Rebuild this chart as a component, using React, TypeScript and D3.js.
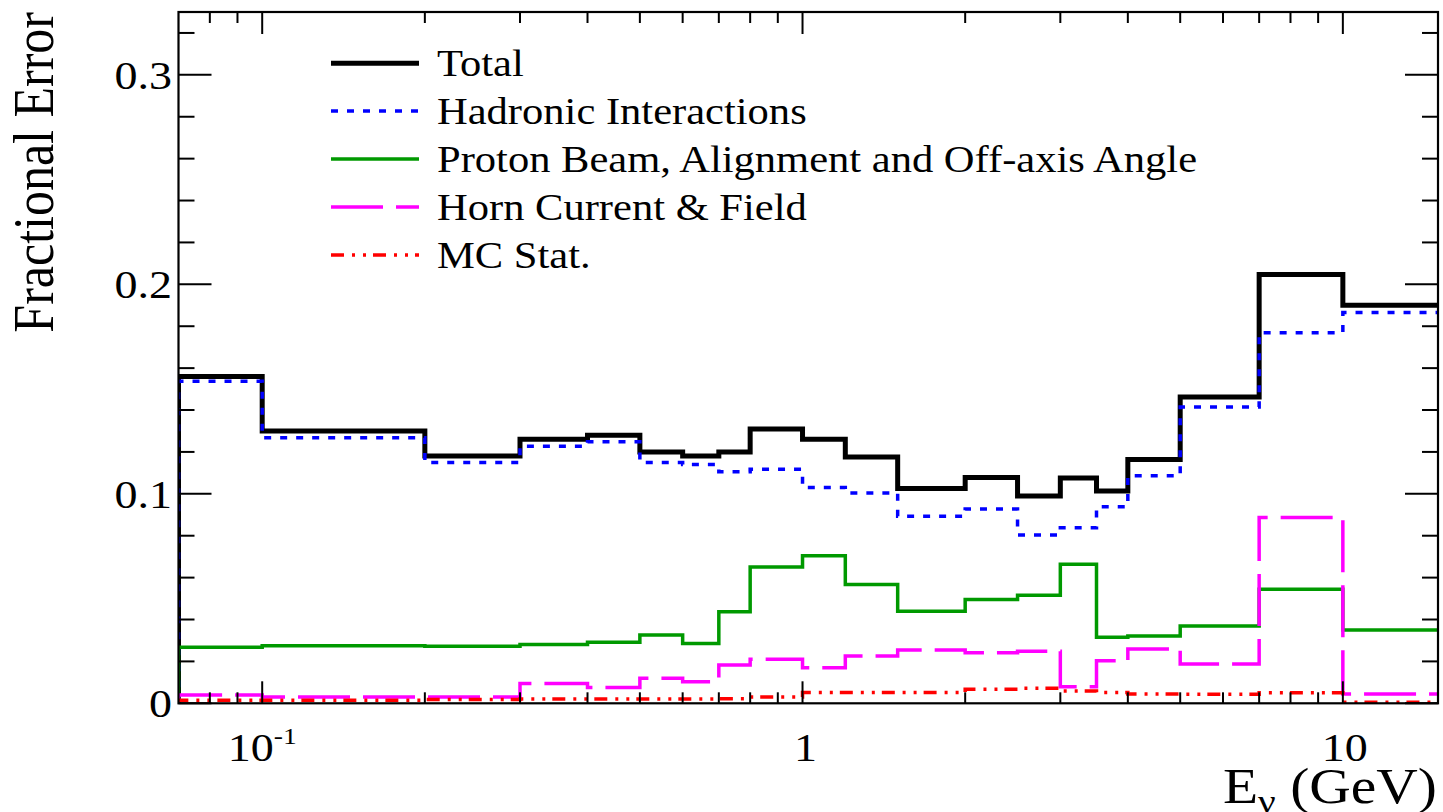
import React from "react";
import * as d3 from "d3";

// ---- data ----
const binEdges = [0.07, 0.1, 0.2, 0.3, 0.4, 0.5, 0.6, 0.7, 0.8, 1.0, 1.2, 1.5, 2.0, 2.5, 3.0, 3.5, 4.0, 5.0, 7.0, 10.0, 15.0];
const totalErr = [0.156, 0.13, 0.118, 0.126, 0.128, 0.12, 0.118, 0.12, 0.131, 0.126, 0.1176, 0.1025, 0.1078, 0.0989, 0.1076, 0.1014, 0.1164, 0.1462, 0.2047, 0.19];
const hadronicErr = [0.1537, 0.1268, 0.1149, 0.1227, 0.1248, 0.1149, 0.114, 0.1105, 0.1117, 0.103, 0.1004, 0.0893, 0.0927, 0.0803, 0.0838, 0.0938, 0.1086, 0.1414, 0.1769, 0.1865];
const protonBeamErr = [0.0267, 0.0275, 0.0272, 0.0281, 0.0291, 0.0326, 0.0286, 0.0437, 0.0651, 0.0704, 0.0567, 0.044, 0.0496, 0.0516, 0.0664, 0.0315, 0.0321, 0.0369, 0.0545, 0.035];
const hornErr = [0.004, 0.003, 0.003, 0.0095, 0.0076, 0.0119, 0.0103, 0.0183, 0.021, 0.017, 0.0226, 0.0254, 0.0241, 0.0249, 0.0079, 0.0203, 0.0259, 0.0188, 0.0887, 0.0044];
const mcStatErr = [0.0015, 0.0015, 0.0018, 0.002, 0.002, 0.002, 0.002, 0.0022, 0.003, 0.0051, 0.0051, 0.0052, 0.0067, 0.0072, 0.0059, 0.0052, 0.0044, 0.0043, 0.005, 0.0005];

const legendLabels = [
  "Total",
  "Hadronic Interactions",
  "Proton Beam, Alignment and Off-axis Angle",
  "Horn Current & Field",
  "MC Stat.",
];
const yTickValues = [0, 0.1, 0.2, 0.3];
const yTickLabels = ["0", "0.1", "0.2", "0.3"];
const xMajorTicks = [0.1, 1, 10];

// ---- layout / style ----
const W = 1443;
const H = 812;
const L = 178.5, R = 1438, T = 12, B = 703.3;
const SX = 1.15;
const FONT = "'Liberation Serif', 'Times New Roman', serif";

const series = [
  { values: totalErr, color: "#000000", width: 5, dash: "" },
  { values: hadronicErr, color: "#0000ff", width: 3.5, dash: "7 9" },
  { values: protonBeamErr, color: "#009900", width: 3.5, dash: "" },
  { values: hornErr, color: "#ff00ff", width: 3.5, dash: "52 13" },
  { values: mcStatErr, color: "#ff0000", width: 3.5, dash: "13 8 3 8 3 7" },
];

export default function App() {
  const x = d3.scaleLog().domain([0.07, 15]).range([L, R]);
  const y = d3.scaleLinear().domain([0, 0.33]).range([B, T]);

  const line = d3
    .line<[number, number]>()
    .x((d) => x(d[0]))
    .y((d) => y(d[1]))
    .curve(d3.curveStepAfter);

  const histPath = (vals: number[]) => {
    const pts: [number, number][] = [[binEdges[0], 0]];
    vals.forEach((v, i) => pts.push([binEdges[i], v]));
    pts.push([binEdges[binEdges.length - 1], vals[vals.length - 1]]);
    return line(pts) || "";
  };

  // minor ticks
  const xMinor: number[] = [];
  [0.01, 0.1, 1, 10].forEach((dec) => {
    for (let k = 2; k <= 9; k++) {
      const v = dec * k;
      if (v > 0.07 && v < 15) xMinor.push(v);
    }
  });
  const yMinor: number[] = d3.range(0, 0.33, 0.02).filter((v) => Math.abs((v * 10) % 1) > 1e-6 && Math.abs((v * 10) % 1 - 1) > 1e-6);

  const legendRows = [63.3, 111, 159, 207, 255];

  return (
    <svg
      width={W}
      height={H}
      style={{ position: "absolute", left: 0, top: 0, background: "#fff" }}
    >
      <defs>
        <clipPath id="plotclip">
          <rect x={L} y={T - 2} width={R - L} height={B - T + 4} />
        </clipPath>
      </defs>
      <rect x={0} y={0} width={W} height={H} fill="#fff" />

      {/* histograms */}
      <g clipPath="url(#plotclip)">
        {series.map((s, i) => (
          <path
            key={i}
            d={histPath(s.values)}
            fill="none"
            stroke={s.color}
            strokeWidth={s.width}
            strokeDasharray={s.dash || undefined}
            strokeLinejoin="miter"
            strokeLinecap="butt"
          />
        ))}
      </g>

      {/* frame */}
      <rect x={L} y={T} width={R - L} height={B - T} fill="none" stroke="#000" strokeWidth={2.2} />

      {/* y ticks, left and right */}
      {yTickValues.map((v, i) => (
        <g key={"ym" + i}>
          <line x1={L} x2={L + 33} y1={y(v)} y2={y(v)} stroke="#000" strokeWidth={2} />
          <line x1={R - 33} x2={R} y1={y(v)} y2={y(v)} stroke="#000" strokeWidth={2} />
          <text
            transform={`translate(172,${y(v) + 14}) scale(${SX},1)`}
            textAnchor="end"
            fontFamily={FONT}
            fontSize={40}
            fill="#000"
          >
            {yTickLabels[i]}
          </text>
        </g>
      ))}
      {yMinor.map((v, i) => (
        <g key={"yn" + i}>
          <line x1={L} x2={L + 16} y1={y(v)} y2={y(v)} stroke="#000" strokeWidth={2} />
          <line x1={R - 16} x2={R} y1={y(v)} y2={y(v)} stroke="#000" strokeWidth={2} />
        </g>
      ))}

      {/* x ticks, bottom and top */}
      {xMajorTicks.map((v, i) => (
        <g key={"xm" + i}>
          <line x1={x(v)} x2={x(v)} y1={B} y2={B - 22} stroke="#000" strokeWidth={2} />
          <line x1={x(v)} x2={x(v)} y1={T} y2={T + 22} stroke="#000" strokeWidth={2} />
        </g>
      ))}
      {xMinor.map((v, i) => (
        <g key={"xn" + i}>
          <line x1={x(v)} x2={x(v)} y1={B} y2={B - 11} stroke="#000" strokeWidth={2} />
          <line x1={x(v)} x2={x(v)} y1={T} y2={T + 11} stroke="#000" strokeWidth={2} />
        </g>
      ))}

      {/* x tick labels */}
      <text
        transform={`translate(${x(0.1)},761) scale(${SX},1)`}
        textAnchor="middle"
        fontFamily={FONT}
        fontSize={40}
        fill="#000"
      >
        10
        <tspan fontSize={24} dy={-17}>-1</tspan>
      </text>
      <text
        transform={`translate(${x(1) + 3},761) scale(${SX},1)`}
        textAnchor="middle"
        fontFamily={FONT}
        fontSize={40}
        fill="#000"
      >
        1
      </text>
      <text
        transform={`translate(${x(10) + 2},761) scale(${SX},1)`}
        textAnchor="middle"
        fontFamily={FONT}
        fontSize={40}
        fill="#000"
      >
        10
      </text>

      {/* axis titles */}
      <text
        transform={`translate(53,12) scale(${SX},1) rotate(-90)`}
        textAnchor="end"
        fontFamily={FONT}
        fontSize={50}
        fill="#000"
      >
        Fractional Error
      </text>
      <text
        transform={`translate(1437,803) scale(${SX},1)`}
        textAnchor="end"
        fontFamily={FONT}
        fontSize={50}
        fill="#000"
      >
        E
        <tspan fontSize={34} dy={10}>ν</tspan>
        <tspan dy={-10}> (GeV)</tspan>
      </text>

      {/* legend */}
      {series.map((s, i) => (
        <g key={"lg" + i}>
          <line
            x1={331}
            x2={419}
            y1={legendRows[i]}
            y2={legendRows[i]}
            stroke={s.color}
            strokeWidth={s.width}
            strokeDasharray={s.dash || undefined}
          />
          <text
            transform={`translate(437,${legendRows[i] + 13}) scale(${SX},1)`}
            fontFamily={FONT}
            fontSize={37}
            fill="#000"
          >
            {legendLabels[i]}
          </text>
        </g>
      ))}
    </svg>
  );
}
